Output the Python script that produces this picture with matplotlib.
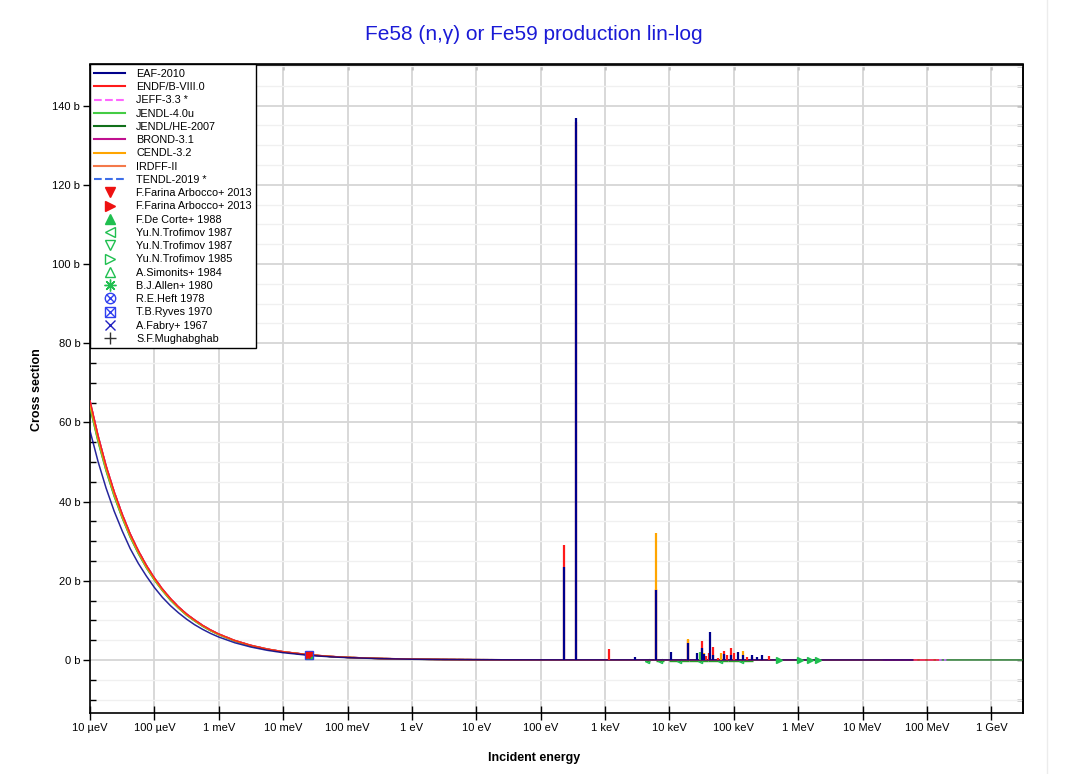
import numpy as np
import matplotlib
matplotlib.use('Agg')
import matplotlib.pyplot as plt
from matplotlib.lines import Line2D
from matplotlib.ticker import MultipleLocator, FixedLocator, NullFormatter, NullLocator

plt.rcParams['font.family'] = ['Liberation Sans', 'DejaVu Sans']

nan = np.nan

# energy grid (eV) for the smooth part of the evaluations
e_grid = [1e-5, 1.334e-5, 1.778e-5, 2.371e-5, 3.162e-5, 4.217e-5, 5.623e-5, 7.499e-5,
          1e-4, 1.334e-4, 1.778e-4, 2.371e-4, 3.162e-4, 4.217e-4, 5.623e-4, 7.499e-4,
          1e-3, 1.778e-3, 3.162e-3, 5.623e-3, 1e-2, 2.53e-2, 5.623e-2, 0.1, 0.316, 1.0,
          3.16, 10.0, 31.6, 100.0, 1e3, 1e4, 1e5, 1e6, 2e7, 6e7, 1.5e8, 2e8, 3e9]

sig_endf = [65.4, 56.6, 49.0, 42.5, 36.8, 31.8, 27.6, 23.9,
            20.7, 17.9, 15.5, 13.4, 11.6, 10.1, 8.72, 7.55,
            6.54, 4.90, 3.68, 2.76, 2.07, 1.30, 0.87, 0.65, 0.37, 0.21,
            0.12, 0.065, 0.04, 0.03, 0.02, 0.01, 0.005, 0.002, 0.001, 0.001, 0.001, 0.001, 0.001]
sig_eaf = [57.9, 50.1, 43.4, 37.6, 32.6, 28.1, 24.4, 21.2,
           18.3, 15.8, 13.7, 11.9, 10.3, 8.9, 7.72, 6.68,
           5.79, 4.34, 3.26, 2.44, 1.83, 1.15, 0.77, 0.58, 0.33, 0.18,
           0.10, 0.058, 0.035, 0.025, 0.02, 0.01, 0.005, 0.002, 0.001, 0.001, 0.001, 0.001, 0.001]
sig_cendl = [64.4, 55.8, 48.3, 41.9, 36.2, 31.3, 27.2, 23.5,
             20.4, 17.6, 15.3, 13.2, 11.4, 9.95, 8.59, 7.44,
             6.44, 4.83, 3.62, 2.72, 2.04, 1.28, 0.86, 0.64, 0.36, 0.20,
             0.12, 0.064, 0.04, 0.03, 0.02, 0.01, 0.005, 0.002, 0.001, 0.001, 0.001, 0.001, 0.001]
sig_jendl = [63.8, 55.2, 47.8, 41.4, 35.9, 31.0, 26.9, 23.3,
             20.2, 17.5, 15.1, 13.1, 11.3, 9.85, 8.50, 7.36,
             6.38, 4.78, 3.59, 2.69, 2.02, 1.27, 0.85, 0.64, 0.36, 0.20,
             0.11, 0.063, 0.04, 0.03, 0.02, 0.01, 0.005, 0.002, 0.001, 0.001, 0.001, 0.001, 0.001]

lib_names = ['EAF-2010', 'ENDF/B-VIII.0', 'JEFF-3.3 *', 'JENDL-4.0u', 'JENDL/HE-2007',
             'BROND-3.1', 'CENDL-3.2', 'IRDFF-II', 'TENDL-2019 *']
lib_colors = ['#00008b', '#ff1a1a', '#ff66ff', '#44cc44', '#11701a',
              '#c0108f', '#ffa500', '#f4794a', '#3d6ee8']
lib_styles = ['-', '-', '--', '-', '-', '-', '-', '-', '--']
lib_emax = [6e7, 1.5e8, 2e8, 2e7, 3e9, 6e7, 2e7, 6e7, 2e8]
lib_sig = [sig_eaf, sig_endf, sig_endf, sig_jendl, sig_jendl, sig_endf, sig_cendl, sig_endf, sig_endf]
lib_order = [4, 8, 2, 7, 5, 3, 6, 1, 0]   # draw order, EAF on top

# resonance peaks (eV, barn)
res_endf_e = [230, 359, 1150, 6200, 19200, 31600, 36800, 40500, 47000, 55800, 70000, 78200,
              89800, 98900, 160000, 191000, 347000]
res_endf_h = [29.0, 136.0, 2.8, 18.0, 5.0, 4.8, 1.1, 1.7, 3.2, 0.6, 2.3, 1.3,
              3.1, 1.8, 0.8, 0.8, 1.1]
res_cendl_e = [6200, 19200, 34500, 63000, 138000]
res_cendl_h = [32.0, 5.2, 1.8, 1.7, 2.3]
res_jendl_e = [29800]
res_jendl_h = [1.9]
res_eaf_e = [230, 359, 2950, 6200, 10500, 19200, 26700, 31600, 34500, 43000, 47000, 70000,
             89800, 117000, 138000, 191000, 228000, 273000]
res_eaf_h = [23.6, 136.8, 0.8, 17.7, 1.9, 4.4, 1.7, 2.9, 1.5, 7.0, 1.3, 1.5,
             1.3, 2.1, 1.3, 1.3, 0.8, 1.3]

# experimental data
therm_e = 0.0253
farina_v_sig = 1.32
farina_r_sig = 1.30
decorte_sig = 1.31
simonits_sig = 1.28
allen_sig = 1.30
heft_sig = 1.29
ryves_sig = 1.26
fabry_sig = 1.28
mugh_sig = 1.30

tro87_e = [4.5e3, 7.2e3, 1.4e4, 3.0e4, 6.0e4, 1.3e5]
tro87_lo = [4.1e3, 6.2e3, 1.0e4, 2.0e4, 4.0e4, 8.0e4]
tro87_hi = [5.0e3, 8.3e3, 2.0e4, 4.0e4, 8.0e4, 2.0e5]
tro87_sig = [-0.35, -0.35, -0.35, -0.35, -0.35, -0.35]

tro85_e = [5.0e5, 1.05e6, 1.55e6, 2.0e6]
tro85_sig = [0.004, 0.003, 0.002, 0.002]

x_ticks = [1e-5, 1e-4, 1e-3, 1e-2, 1e-1, 1, 10, 100, 1e3, 1e4, 1e5, 1e6, 1e7, 1e8, 1e9]
x_labels = ['10 µeV', '100 µeV', '1 meV', '10 meV', '100 meV', '1 eV', '10 eV', '100 eV',
            '1 keV', '10 keV', '100 keV', '1 MeV', '10 MeV', '100 MeV', '1 GeV']
y_ticks = [0, 20, 40, 60, 80, 100, 120, 140]

green = '#1fbf4f'
blue_m = '#3040f0'

fig = plt.figure(figsize=(10.67, 7.74), dpi=100)
W, H = 1067, 774
ax = fig.add_axes([90 / W, 1 - 713 / H, (1023 - 90) / W, (713 - 64.5) / H])

# faint panel border on the right
fig.add_artist(Line2D([1047 / W, 1047 / W], [0, 1], color='#ececec', lw=1))

E = np.array(e_grid)
for i in lib_order:
    s = np.array(lib_sig[i], dtype=float)
    s = np.where(E <= lib_emax[i], s, nan)
    ax.plot(E, s, color=lib_colors[i], ls=lib_styles[i], lw=1.1, alpha=0.85, zorder=3)

ax.vlines(res_endf_e, 0, res_endf_h, color=lib_colors[1], lw=1.6, zorder=4)
ax.vlines(res_cendl_e, 0, res_cendl_h, color=lib_colors[6], lw=1.6, zorder=4)
ax.vlines(res_jendl_e, 0, res_jendl_h, color=lib_colors[3], lw=1.6, zorder=4)
ax.vlines(res_eaf_e, 0, res_eaf_h, color=lib_colors[0], lw=1.6, zorder=5)

# measurements
ms = 5
ax.plot(therm_e, ryves_sig, 's', mfc='none', mec=blue_m, ms=ms + 1, zorder=6)
ax.plot(therm_e, ryves_sig, 'x', color=blue_m, ms=ms, zorder=6)
ax.plot(therm_e, heft_sig, 'o', mfc='none', mec=blue_m, ms=ms, zorder=6)
ax.plot(therm_e, heft_sig, 'x', color=blue_m, ms=ms * 0.7, zorder=6)
ax.plot(therm_e, fabry_sig, 'x', color='#2020c0', ms=ms, zorder=6)
ax.plot(therm_e, decorte_sig, '^', color=green, ms=ms, zorder=6)
ax.plot(therm_e, simonits_sig, '^', mfc='none', mec=green, ms=ms, zorder=6)
ax.plot(therm_e, allen_sig, marker=(8, 2, 0), color=green, ms=ms, zorder=6)
ax.plot(therm_e, mugh_sig, '+', color='#333333', ms=ms, zorder=6)
ax.plot(therm_e, farina_v_sig, 'v', color='#ee1111', ms=ms, zorder=7)
ax.plot(therm_e, farina_r_sig, '>', color='#ee1111', ms=ms, zorder=7)

t_e = np.array(tro87_e)
ax.errorbar(tro87_e, tro87_sig, xerr=[t_e - np.array(tro87_lo), np.array(tro87_hi) - t_e],
            fmt='<', mfc='none', mec=green, ecolor='#2aa02a', ms=3, elinewidth=1, zorder=2)
ax.plot(tro85_e, tro85_sig, '>', color=green, ms=4, ls='none', zorder=6)

ax.set_xscale('log')
ax.set_xlim(1e-5, 3.1e9)
ax.set_ylim(-13.4, 150.4)

ax.xaxis.set_major_locator(FixedLocator(x_ticks))
ax.xaxis.set_minor_locator(NullLocator())
ax.set_xticklabels(x_labels)
ax.yaxis.set_major_locator(FixedLocator(y_ticks))
ax.yaxis.set_minor_locator(MultipleLocator(5))
ax.set_yticklabels([f'{v} b' for v in y_ticks])

ax.grid(True, which='major', color='#d6d6d6', lw=1.3, zorder=0)
ax.grid(True, which='minor', axis='y', color='#f0f0f0', lw=1.0, zorder=0)
ax.set_axisbelow(True)

ax.tick_params(axis='y', which='major', direction='out', length=5, width=1, labelsize=8, pad=2)
ax.tick_params(axis='y', which='minor', direction='in', length=4, width=1)
ax.tick_params(axis='x', which='major', direction='inout', length=10, width=1, labelsize=8, pad=2)
for sp in ax.spines.values():
    sp.set_linewidth(1.2)

sec_r = ax.secondary_yaxis('right')
sec_r.yaxis.set_major_locator(MultipleLocator(5))
sec_r.yaxis.set_major_formatter(NullFormatter())
sec_r.tick_params(direction='in', length=4, width=1)
sec_r.spines['right'].set_linewidth(1.2)

sec_t = ax.secondary_xaxis('top')
sec_t.xaxis.set_major_locator(FixedLocator(x_ticks))
sec_t.xaxis.set_minor_locator(NullLocator())
sec_t.xaxis.set_major_formatter(NullFormatter())
sec_t.tick_params(direction='in', length=4, width=1)
sec_t.spines['top'].set_linewidth(1.2)

fig.text(0.5, 1 - 35 / H, 'Fe58 (n,γ) or Fe59 production lin-log', ha='center', va='center',
         fontsize=15, color='#1a1ad6')
fig.text(534 / W, 1 - 758 / H, 'Incident energy', ha='center', va='center',
         fontsize=9, fontweight='bold')
fig.text(37 / W, 1 - 390 / H, 'Cross section', ha='center', va='center', rotation=90,
         fontsize=9, fontweight='bold')

# legend proxies
lms = 7.5
handles = [Line2D([], [], color=lib_colors[i], ls=lib_styles[i], lw=1.5) for i in range(len(lib_names))]
labels = list(lib_names)
handles += [
    Line2D([], [], ls='none', marker='v', color='#ee1111', ms=lms),
    Line2D([], [], ls='none', marker='>', color='#ee1111', ms=lms),
    Line2D([], [], ls='none', marker='^', color=green, ms=lms),
    Line2D([], [], ls='none', marker='<', mfc='none', mec=green, ms=lms),
    Line2D([], [], ls='none', marker='v', mfc='none', mec=green, ms=lms),
    Line2D([], [], ls='none', marker='>', mfc='none', mec=green, ms=lms),
    Line2D([], [], ls='none', marker='^', mfc='none', mec=green, ms=lms),
    Line2D([], [], ls='none', marker=(8, 2, 0), color=green, ms=lms + 1),
    (Line2D([], [], ls='none', marker='o', mfc='none', mec=blue_m, ms=lms),
     Line2D([], [], ls='none', marker='x', color=blue_m, ms=lms * 0.7)),
    (Line2D([], [], ls='none', marker='s', mfc='none', mec=blue_m, ms=lms),
     Line2D([], [], ls='none', marker='x', color=blue_m, ms=lms)),
    Line2D([], [], ls='none', marker='x', color='#2020c0', ms=lms),
    Line2D([], [], ls='none', marker='+', color='#333333', ms=lms + 1),
]
labels += ['F.Farina Arbocco+ 2013', 'F.Farina Arbocco+ 2013', 'F.De Corte+ 1988',
           'Yu.N.Trofimov 1987', 'Yu.N.Trofimov 1987', 'Yu.N.Trofimov 1985',
           'A.Simonits+ 1984', 'B.J.Allen+ 1980', 'R.E.Heft 1978', 'T.B.Ryves 1970',
           'A.Fabry+ 1967', 'S.F.Mughabghab']

leg = ax.legend(handles, labels, loc='upper left', bbox_to_anchor=(0, 1), borderaxespad=0,
                fontsize=7.8, handlelength=2.85, handletextpad=1.0, borderpad=0.4,
                labelspacing=0.3, fancybox=False, framealpha=1, edgecolor='black')
leg.get_frame().set_linewidth(1.0)
leg.set_zorder(10)

fig.savefig('out.png', dpi=100)
